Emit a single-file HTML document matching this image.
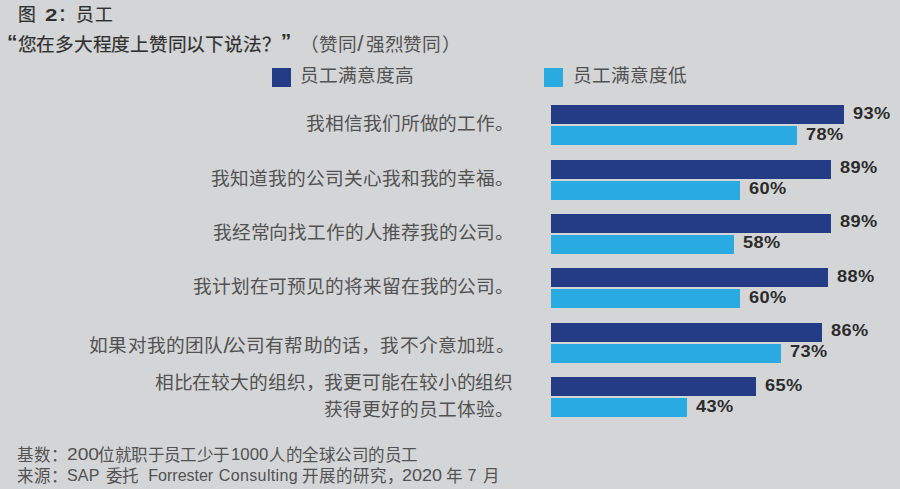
<!DOCTYPE html>
<html lang="zh-CN"><head><meta charset="utf-8">
<style>
html,body{margin:0;padding:0;}
body{width:900px;height:489px;background:#d4d5d7;font-family:"Liberation Sans",sans-serif;position:relative;overflow:hidden;text-spacing-trim:space-all;}
.t{position:absolute;white-space:nowrap;line-height:1;}
.bar{position:absolute;left:551px;}
.d{background:#243b86;height:19px;}
.l{background:#29abe2;height:19px;}
.v{position:absolute;font-weight:bold;font-size:17px;letter-spacing:0.4px;line-height:1;color:#2b2b2b;white-space:nowrap;transform-origin:0 0;transform:scaleX(1.07);}
.sq{position:absolute;top:67.5px;width:19px;height:19.5px;}
</style></head><body>
<div class="sq" style="left:272px;background:#243b86"></div>
<div class="sq" style="left:544px;background:#29abe2"></div>
<div class="t" style="left:17.6px;top:7.1px;font-size:17.8px;color:#303030;-webkit-text-stroke:0.2px #303030;">图</div>
<div class="t" style="left:45.0px;top:7.8px;font-size:17px;font-weight:bold;color:#303030;display:inline-block;transform-origin:0 0;margin-top:-1px;transform:scaleX(1.3125);">2</div>
<div class="t" style="left:57.7px;top:7.1px;font-size:17.8px;color:#303030;-webkit-text-stroke:0.2px #303030;">：</div>
<div class="t" style="left:75.8px;top:7.1px;font-size:17.8px;color:#303030;-webkit-text-stroke:0.2px #303030;letter-spacing:1.200px;">员工</div>
<div class="t" style="left:7.1px;top:34.4px;font-size:21px;font-weight:bold;color:#303030;margin-top:-3px;">“</div>
<div class="t" style="left:17.7px;top:36.3px;font-size:18.7px;color:#303030;-webkit-text-stroke:0.2px #303030;letter-spacing:-0.250px;">您在多大程度上赞同以下说法</div>
<div class="t" style="left:262.3px;top:36.3px;font-size:18.7px;color:#303030;-webkit-text-stroke:0.2px #303030;">？</div>
<div class="t" style="left:280.7px;top:34.4px;font-size:21px;font-weight:bold;color:#303030;margin-top:-4px;">”</div>
<div class="t" style="left:299.7px;top:36.3px;font-size:18.7px;color:#525252;">（</div>
<div class="t" style="left:319.0px;top:36.3px;font-size:18.7px;color:#525252;letter-spacing:-0.300px;">赞同</div>
<div class="t" style="left:357.3px;top:33.1px;font-size:22.5px;color:#525252;">/</div>
<div class="t" style="left:366.3px;top:36.3px;font-size:18.7px;color:#525252;letter-spacing:-0.533px;">强烈赞同</div>
<div class="t" style="left:442.3px;top:36.3px;font-size:18.7px;color:#525252;">）</div>
<div class="t" style="left:300.3px;top:67.1px;font-size:18.7px;color:#525252;letter-spacing:-0.140px;">员工满意度高</div>
<div class="t" style="left:573.0px;top:67.1px;font-size:18.7px;color:#525252;letter-spacing:-0.040px;">员工满意度低</div>
<div class="t" style="left:305.9px;top:115.2px;font-size:18.7px;color:#525252;letter-spacing:-0.060px;">我相信我们所做的工作。</div>
<div class="t" style="left:211.1px;top:170.2px;font-size:18.7px;color:#525252;letter-spacing:-0.050px;">我知道我的公司关心我和我的幸福。</div>
<div class="t" style="left:212.9px;top:223.8px;font-size:18.7px;color:#525252;letter-spacing:-0.173px;">我经常向找工作的人推荐我的公司。</div>
<div class="t" style="left:192.9px;top:278.4px;font-size:18.7px;color:#525252;letter-spacing:-0.100px;">我计划在可预见的将来留在我的公司。</div>
<div class="t" style="left:89.2px;top:337.0px;font-size:18.7px;color:#525252;letter-spacing:0.186px;">如果对我的团队<span style="font-size:22.5px;margin-right:-3px;line-height:0;position:relative;top:1px">/</span>公司有帮助的话，我不介意加班。</div>
<div class="t" style="left:154.7px;top:373.5px;font-size:18.7px;color:#525252;letter-spacing:-0.133px;">相比在较大的组织，我更可能在较小的组织</div>
<div class="t" style="left:324.0px;top:400.5px;font-size:18.7px;color:#525252;letter-spacing:0.033px;">获得更好的员工体验。</div>
<div class="t" style="left:17.0px;top:447.0px;font-size:16.5px;color:#525252;">基数：</div>
<div class="t" style="left:67.0px;top:447.4px;font-size:16px;color:#525252;display:inline-block;transform-origin:0 0;transform:scaleX(1.2000);">200</div>
<div class="t" style="left:98.3px;top:447.0px;font-size:16.5px;color:#525252;letter-spacing:-0.571px;">位就职于员工少于</div>
<div class="t" style="left:231.0px;top:447.4px;font-size:16px;color:#525252;display:inline-block;transform-origin:0 0;transform:scaleX(1.0471);">1000</div>
<div class="t" style="left:269.2px;top:447.0px;font-size:16.5px;color:#525252;letter-spacing:-0.525px;">人的全球公司的员工</div>
<div class="t" style="left:17.0px;top:467.7px;font-size:16.5px;color:#525252;">来源：</div>
<div class="t" style="left:67.1px;top:468.1px;font-size:16px;color:#525252;letter-spacing:0.100px;">SAP</div>
<div class="t" style="left:105.7px;top:467.7px;font-size:16.5px;color:#525252;letter-spacing:-0.900px;">委托</div>
<div class="t" style="left:148.3px;top:468.1px;font-size:16px;color:#525252;">Forrester</div>
<div class="t" style="left:218.8px;top:468.1px;font-size:16px;color:#525252;letter-spacing:0.367px;">Consulting</div>
<div class="t" style="left:302.3px;top:467.7px;font-size:16.5px;color:#525252;">开展的研究，</div>
<div class="t" style="left:401.7px;top:468.1px;font-size:16px;color:#525252;display:inline-block;transform-origin:0 0;transform:scaleX(1.1235);">2020</div>
<div class="t" style="left:446.1px;top:467.7px;font-size:16.5px;color:#525252;">年</div>
<div class="t" style="left:467.4px;top:468.1px;font-size:16px;color:#525252;">7</div>
<div class="t" style="left:482.6px;top:467.7px;font-size:16.5px;color:#525252;">月</div>
<div class="bar d" style="top:105.20px;width:292.5px"></div>
<div class="bar l" style="top:126.20px;width:245.5px"></div>
<div class="v" style="left:852.7px;top:104.70px">93%</div>
<div class="v" style="left:805.7px;top:125.70px">78%</div>
<div class="bar d" style="top:159.56px;width:280.0px"></div>
<div class="bar l" style="top:180.56px;width:189.1px"></div>
<div class="v" style="left:840.2px;top:159.06px">89%</div>
<div class="v" style="left:749.3px;top:180.06px">60%</div>
<div class="bar d" style="top:213.92px;width:280.0px"></div>
<div class="bar l" style="top:234.92px;width:182.8px"></div>
<div class="v" style="left:840.2px;top:213.42px">89%</div>
<div class="v" style="left:743.0px;top:234.42px">58%</div>
<div class="bar d" style="top:268.28px;width:276.8px"></div>
<div class="bar l" style="top:289.28px;width:189.1px"></div>
<div class="v" style="left:837.0px;top:267.78px">88%</div>
<div class="v" style="left:749.3px;top:288.78px">60%</div>
<div class="bar d" style="top:322.64px;width:270.6px"></div>
<div class="bar l" style="top:343.64px;width:229.8px"></div>
<div class="v" style="left:830.8px;top:322.14px">86%</div>
<div class="v" style="left:790.0px;top:343.14px">73%</div>
<div class="bar d" style="top:377.00px;width:204.7px"></div>
<div class="bar l" style="top:398.00px;width:135.8px"></div>
<div class="v" style="left:764.9px;top:376.50px">65%</div>
<div class="v" style="left:696.0px;top:397.50px">43%</div>
</body></html>
